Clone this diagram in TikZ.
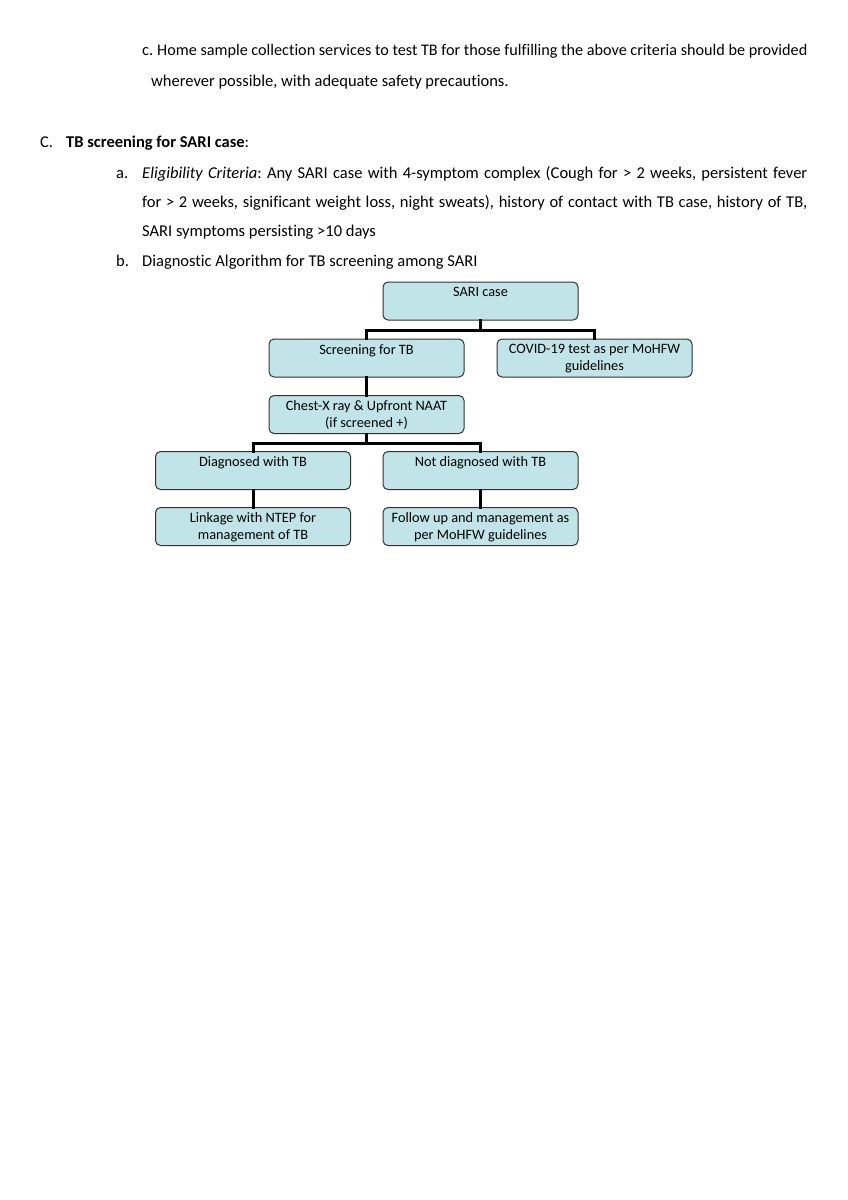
\documentclass[tikz,border=0pt]{standalone}
\usepackage{fontspec}
\setmainfont{Carlito}[Ligatures=NoCommon]
\definecolor{boxfill}{RGB}{192,228,231}
\definecolor{boxline}{RGB}{50,50,50}
\frenchspacing
\begin{document}
\begin{tikzpicture}[x=1pt,y=-1pt,
  txt/.style={anchor=base west,inner sep=0pt,font=\fontsize{16.5}{19}\selectfont},
  box/.style={draw=boxline,line width=1pt,fill=boxfill,rounded corners=5pt,inner sep=0pt,font=\fontsize{14.3}{17}\selectfont},
  conn/.style={line width=3pt,line cap=rect}]
\useasboundingbox (0,0) rectangle (848,1200);
% body text
\node[txt] (c0) at (142,55) {c.};
\node[txt,font=\fontsize{16.2}{19}\selectfont] (c1) at (157,55) {Home sample collection services to test TB for those fulfilling the above criteria should be provided};
\node[txt] (c2) at (151,86) {wherever possible, with adequate safety precautions.};
\node[txt] (C0) at (40,147) {C.};
\node[txt] (C1) at (66,147) {\textbf{TB screening for SARI case}:};
\node[txt] (a0) at (116,178) {a.};
\node[txt] (a1) at (142,178) {\makebox[665pt][s]{\textit{Eligibility Criteria}: Any SARI case with 4-symptom complex (Cough for > 2 weeks, persistent fever}};
\node[txt] (a2) at (142,207) {\makebox[665pt][s]{for > 2 weeks, significant weight loss, night sweats), history of contact with TB case, history of TB,}};
\node[txt] (a3) at (142,236) {SARI symptoms persisting >10 days};
\node[txt] (b0) at (116,266) {b.};
\node[txt] (b1) at (142,266) {Diagnostic Algorithm for TB screening among SARI};
% boxes
\newcommand{\boxtxt}[1]{\parbox[c][38pt][t]{195pt}{\centering\vspace{5.5pt}#1}}
\node[box] (sari) at (480.5,301) {\boxtxt{SARI case}};
\node[box] (screen) at (366.5,358) {\boxtxt{Screening for TB}};
\node[box] (covid) at (594.5,358) {\boxtxt{COVID-19 test as per MoHFW\\guidelines}};
\node[box] (cxr) at (366.5,414.5) {\boxtxt{Chest-X ray \& Upfront NAAT\\(if screened +)}};
\node[box] (diag) at (253,470.5) {\boxtxt{Diagnosed with TB}};
\node[box] (notdiag) at (480.5,470.5) {\boxtxt{Not diagnosed with TB}};
\node[box] (link) at (253,526.5) {\boxtxt{Linkage with NTEP for\\management of TB}};
\node[box] (follow) at (480.5,526.5) {\boxtxt{Follow up and management as\\per MoHFW guidelines}};
% connectors
\draw[conn] (sari.south) -- ++(0,9.5) coordinate (j1);
\draw[conn] (screen.north) |- (j1) -| (covid.north);
\draw[conn] (screen.south) -- (cxr.north);
\draw[conn] (cxr.south) -- ++(0,9.5) coordinate (j2);
\draw[conn] (diag.north) |- (j2) -| (notdiag.north);
\draw[conn] (diag.south) -- (link.north);
\draw[conn] (notdiag.south) -- (follow.north);
\end{tikzpicture}
\end{document}
